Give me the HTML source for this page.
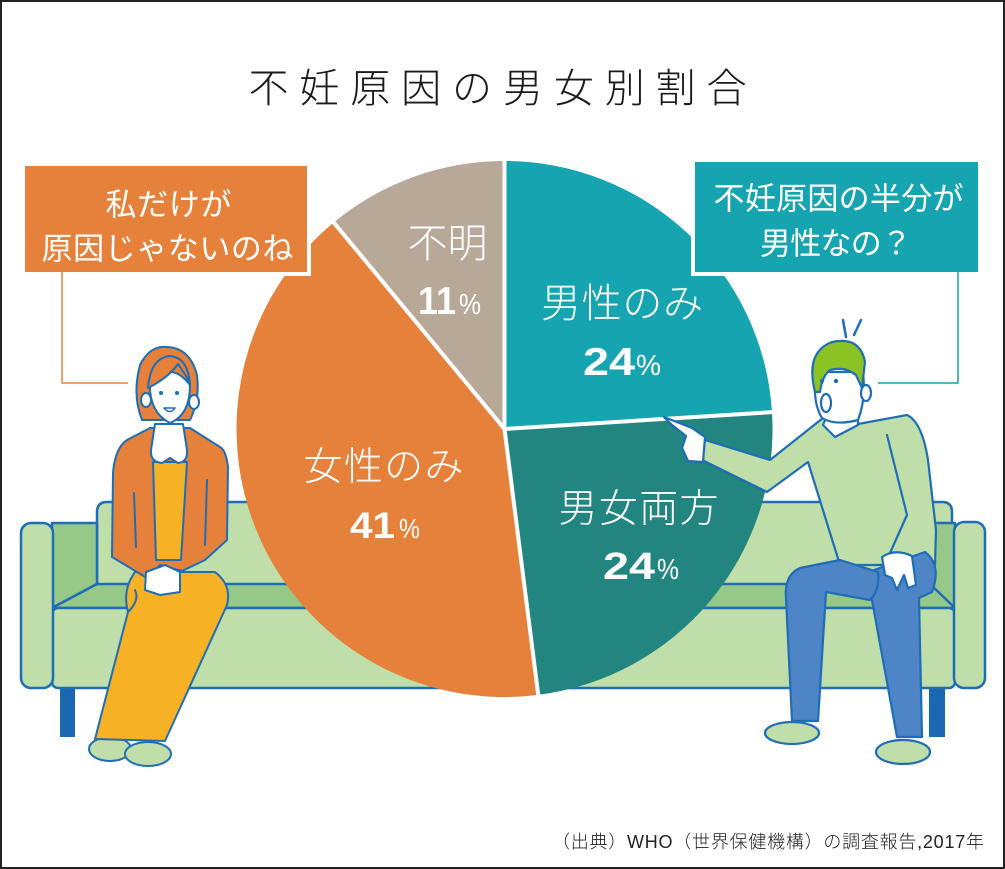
<!DOCTYPE html>
<html><head><meta charset="utf-8"><style>
html,body{margin:0;padding:0;background:#fff;}
svg{display:block;}
.jp{font-family:"Liberation Sans","Noto Sans CJK JP",sans-serif;}
.num{font-family:"Liberation Sans",sans-serif;}
</style></head><body>
<svg width="1005" height="869" viewBox="0 0 1005 869" xmlns="http://www.w3.org/2000/svg">
<rect x="0" y="0" width="1005" height="869" fill="#fff"/>

<!-- title -->
<text class="jp" x="497.5" y="102" font-size="40" font-weight="300" text-anchor="middle" textLength="498" fill="#1a1a1a">不妊原因の男女別割合</text>

<!-- sofa -->
<g stroke="#1f6db5" stroke-width="2.5" stroke-linejoin="round">
 <rect x="60" y="684" width="15" height="53" fill="#1a68b2" stroke="none"/>
 <rect x="929" y="684" width="16" height="53" fill="#1a68b2" stroke="none"/>
 <path d="M97,600 L97,512 Q97,502 107,502 L942,502 Q952,502 952,512 L952,600 Z" fill="#bfdeaa"/>
 <polygon points="52,523 97,523 97,584 52,608" fill="#96c987"/>
 <polygon points="930,523 955,523 955,608 930,596" fill="#96c987"/>
 <polygon points="97,584 930,584 955,608 52,608" fill="#96c987"/>
 <rect x="52" y="608" width="903" height="80" rx="6" fill="#bfdeaa"/>
 <rect x="21" y="523" width="32" height="165" rx="10" fill="#bfdeaa"/>
 <rect x="954" y="522" width="31" height="166" rx="10" fill="#bfdeaa"/>
</g>

<!-- pie -->
<path d="M504.5,429 L504.5,161 A268,268 0 0 1 772,412.2 Z" fill="#15a4b0"/>
<path d="M504.5,429 L772,412.2 A268,268 0 0 1 538.1,694.9 Z" fill="#238580"/>
<path d="M504.5,429 L538.1,694.9 A268,268 0 0 1 333.7,222.5 Z" fill="#e5813b"/>
<path d="M504.5,429 L333.7,222.5 A268,268 0 0 1 504.5,161 Z" fill="#b8a898"/>
<g stroke="#fff" stroke-width="4" stroke-linecap="butt">
 <line x1="504.5" y1="429" x2="504.5" y2="155"/>
 <line x1="504.5" y1="429" x2="778" y2="411.8"/>
 <line x1="504.5" y1="429" x2="539" y2="701"/>
 <line x1="504.5" y1="429" x2="330" y2="218"/>
</g>

<!-- pie labels -->
<g class="jp" fill="#fff" font-weight="300" text-anchor="middle">
 <text x="447.5" y="257" font-size="40" textLength="80">不明</text>
 <text x="622" y="317" font-size="40" textLength="162">男性のみ</text>
 <text x="383.5" y="480" font-size="39" textLength="160">女性のみ</text>
 <text x="638.5" y="522" font-size="39" textLength="160">男女両方</text>
</g>
<g class="num" fill="#fff">
 <text x="418" y="314" font-size="39" font-weight="bold" textLength="38" lengthAdjust="spacingAndGlyphs">11</text>
 <text x="459" y="314" font-size="29" textLength="22" lengthAdjust="spacingAndGlyphs">%</text>
 <text x="583" y="375" font-size="39" font-weight="bold" textLength="52" lengthAdjust="spacingAndGlyphs">24</text>
 <text x="636" y="375" font-size="29" textLength="25" lengthAdjust="spacingAndGlyphs">%</text>
 <text x="350" y="538" font-size="37" font-weight="bold" textLength="45" lengthAdjust="spacingAndGlyphs">41</text>
 <text x="399" y="538" font-size="28" textLength="21" lengthAdjust="spacingAndGlyphs">%</text>
 <text x="603" y="579" font-size="38" font-weight="bold" textLength="52" lengthAdjust="spacingAndGlyphs">24</text>
 <text x="657" y="579" font-size="29" textLength="22" lengthAdjust="spacingAndGlyphs">%</text>
</g>

<!-- callouts -->
<rect x="21" y="162" width="290" height="114" fill="#fff"/>
<rect x="25" y="166" width="282" height="106" fill="#e5813b"/>
<rect x="691" y="158" width="291" height="118" fill="#fff"/>
<rect x="695" y="162" width="283" height="110" fill="#15a4b0"/>
<g class="jp" fill="#fff" font-weight="400" text-anchor="middle" font-size="31">
 <text x="168.5" y="215.5" textLength="126">私だけが</text>
 <text x="167.5" y="259.5" textLength="252">原因じゃないのね</text>
 <text x="838.5" y="209.5" textLength="250">不妊原因の半分が</text>
 <text x="836" y="254.5" textLength="152">男性なの？</text>
</g>
<polyline points="62,272 62,383 128,383" fill="none" stroke="#e5813b" stroke-width="1.5"/>
<polyline points="958,272 958,383 878,383" fill="none" stroke="#15a4b0" stroke-width="1.5"/>

<!-- woman -->
<g stroke="#1f6db5" stroke-width="2" stroke-linejoin="round" stroke-linecap="round">
 <ellipse cx="110" cy="749" rx="21" ry="12" fill="#bfdeaa"/>
 <ellipse cx="148" cy="754" rx="23" ry="12" fill="#bfdeaa"/>
 <path d="M135,572 L215,572 Q232,585 227,605 L165,741 L95,739 L128,612 Q122,590 135,572 Z" fill="#f6b224"/>
 <path d="M128,612 Q140,600 135,590" fill="none"/>
 <path d="M150,428 L127,440 Q115,448 113,473 L112,557 L147,578 L160,565 L182,571 L205,560 L227,540 L228,467 Q226,450 220,447 L190,428 Z" fill="#e5813b"/>
 <path d="M153,462 L187,462 L181,560 L156,560 Z" fill="#f6b224"/>
 <path d="M134,493 L136,547" fill="none"/>
 <path d="M207,480 L205,545" fill="none"/>
 <path d="M155,424 L183,424 L187,450 Q188,462 178,463 L170,458 L162,463 Q150,462 151,450 Z" fill="#fff"/>
 <path d="M146,572 L165,565 L180,572 L180,592 L160,595 L145,590 Z" fill="#fff"/>
 <path d="M142,420 Q132,395 140,365 Q150,345 167,347 Q190,348 197,375 Q200,400 190,420 Q180,420 170,420 Z" fill="#e5813b"/>
 <ellipse cx="146" cy="400" rx="5" ry="7" fill="#fff"/>
 <ellipse cx="194" cy="402" rx="5" ry="7" fill="#fff"/>
 <path d="M150,380 Q148,412 170,423 Q190,415 190,385 Q180,372 170,372 Q160,374 150,380 Z" fill="#fff"/>
 <path d="M148,388 Q150,360 168,356 Q188,356 190,385 L186,376 L178,364 Q168,378 148,388 Z" fill="#e5813b"/>
 <circle cx="161" cy="393" r="2" fill="#1f6db5" stroke="none"/>
 <circle cx="177" cy="393" r="2" fill="#1f6db5" stroke="none"/>
 <path d="M164,408 Q170,415 175,408 Z" fill="#fff" stroke-width="1.5"/>
</g>

<!-- man -->
<g stroke="#1f6db5" stroke-width="2.2" stroke-linejoin="round" stroke-linecap="round">
 <ellipse cx="792" cy="733" rx="27" ry="11" fill="#bfdeaa"/>
 <ellipse cx="903" cy="752" rx="27" ry="12" fill="#bfdeaa"/>
 <path d="M705,440 L770,460 L823,418 L858,424 L907,415 Q922,422 928,460 L936,530 L935,565 L840,565 L808,462 L767,492 L702,460 Z" fill="#bfdeaa"/>
 <path d="M860,575 L925,552 Q942,565 932,592 L919,598 L922,737 L897,737 L872,600 Q864,588 860,575 Z" fill="#4e85c7"/>
 <path d="M840,560 L878,572 Q880,590 870,600 L826,592 L818,721 L792,721 L786,598 Q784,575 800,568 Z" fill="#4e85c7"/>
 <path d="M882,557 Q895,548 912,556 L916,585 L908,588 L904,575 L897,590 L892,578 L885,575 Z" fill="#fff"/>
 <path d="M705,437 L692,428 L664,417 L672,425 L686,436 L682,448 L688,461 L703,462 Z" fill="#fff"/>
 <path d="M887,435 L907,515 L890,553" fill="none"/>
 <path d="M826,418 L858,418 L858,425 L835,437 L823,425 Z" fill="#fff"/>
 <path d="M816,372 Q812,402 822,418 Q835,426 858,420 Q866,400 863,372 Z" fill="#fff"/>
 <ellipse cx="866" cy="393" rx="5" ry="8" fill="#fff"/>
 <path d="M815,392 Q805,352 832,342 Q860,336 865,362 L862,388 L856,375 Q845,366 830,370 Q822,376 820,392 Z" fill="#8bc325"/>
 <circle cx="822" cy="381" r="2.2" fill="#1f6db5" stroke="none"/>
 <circle cx="836" cy="381" r="2.2" fill="#1f6db5" stroke="none"/>
 <ellipse cx="826" cy="403" rx="5" ry="9" fill="#fff"/>
 <line x1="843" y1="320" x2="846" y2="337" stroke-width="2.5"/>
 <line x1="861" y1="320" x2="854" y2="335" stroke-width="2.5"/>
</g>

<!-- footer -->
<text class="jp" x="552" y="848" font-size="18" font-weight="300" textLength="432" fill="#222">（出典）WHO（世界保健機構）の調査報告,2017年</text>

<!-- border -->
<rect x="1" y="1" width="1003" height="867" fill="none" stroke="#222" stroke-width="2"/>
</svg>
</body></html>
